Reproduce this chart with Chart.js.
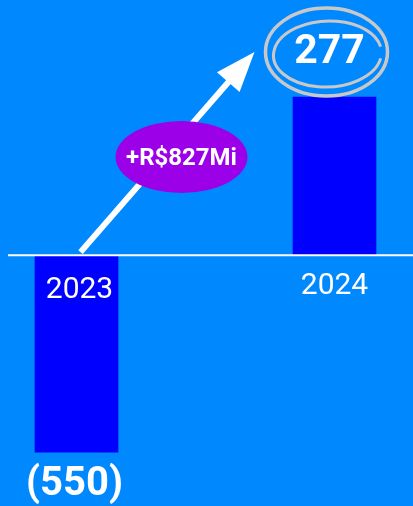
<!DOCTYPE html>
<html lang="en">
<head>
  <meta charset="UTF-8">
  <title>Resultado 2023 x 2024</title>
  <script src="https://cdn.jsdelivr.net/npm/chart.js"></script>
  <style>
    html, body { margin: 0; padding: 0; background: #0088FF; }
    #grafico { display: block; }
  </style>
</head>
<body>
  <canvas id="grafico" width="413" height="506"></canvas>

<script>
  const anos = ['2023', '2024'];
  const resultado = [-550, 277];
  const rotulosValor = ['(550)', '277'];
  const rotuloVariacao = '+R$827Mi';

  const BRANCO = '#FFFFFF';
  const AZUL_BARRA = '#0000FF';
  const ROXO = '#9B00E8';
  const CINZA = '#C8C8C8';

  // the source slide does not draw the two bars at the same scale,
  // so each bar sits on its own (hidden) axis sharing the zero line
  const desenhoExtra = {
    id: 'desenhoExtra',
    afterDatasetsDraw(chart) {
      const ctx = chart.ctx;
      const y0 = chart.scales.y.getPixelForValue(0);
      const barra23 = chart.getDatasetMeta(0).data[0];
      const barra24 = chart.getDatasetMeta(1).data[1];

      ctx.save();

      // linha do zero
      ctx.strokeStyle = BRANCO;
      ctx.lineWidth = 2;
      ctx.beginPath();
      ctx.moveTo(8, y0);
      ctx.lineTo(chart.width, y0);
      ctx.stroke();

      // anos
      ctx.fillStyle = BRANCO;
      ctx.textAlign = 'center';
      ctx.textBaseline = 'middle';
      ctx.font = '30px Roboto';
      ctx.fillText(anos[0], barra23.x + 3, y0 + 35);
      ctx.fillText(anos[1], barra24.x, y0 + 31);

      // valor negativo abaixo da barra
      ctx.font = 'bold 40px Roboto';
      ctx.fillText(rotulosValor[0], barra23.x - 2, barra23.y + 33);

      // seta
      const x1 = barra23.x + 4, y1 = y0 - 3;
      const x2 = barra24.x - 80, y2 = barra24.y - 45;
      const ang = Math.atan2(y2 - y1, x2 - x1);
      const cab = 40, meia = 15;
      const bx = x2 - cab * Math.cos(ang), by = y2 - cab * Math.sin(ang);
      ctx.strokeStyle = BRANCO;
      ctx.lineWidth = 6;
      ctx.beginPath();
      ctx.moveTo(x1, y1);
      ctx.lineTo(bx + 2 * Math.cos(ang), by + 2 * Math.sin(ang));
      ctx.stroke();
      ctx.beginPath();
      ctx.moveTo(x2, y2);
      ctx.lineTo(bx + meia * Math.sin(ang), by - meia * Math.cos(ang));
      ctx.lineTo(bx - meia * Math.sin(ang), by + meia * Math.cos(ang));
      ctx.closePath();
      ctx.fill();

      // balão roxo com a variação
      const cx = (x1 + x2) / 2 + 14, cy = (y1 + y2) / 2 + 5;
      ctx.fillStyle = ROXO;
      ctx.beginPath();
      ctx.ellipse(cx, cy, 66, 36, 0, 0, Math.PI * 2);
      ctx.fill();
      ctx.fillStyle = BRANCO;
      ctx.font = 'bold 24px Roboto';
      ctx.fillText(rotuloVariacao, cx, cy + 2);

      // círculo duplo em volta do 277
      const ex = barra24.x - 8, ey = barra24.y - 45;
      ctx.strokeStyle = CINZA;
      ctx.lineWidth = 3.5;
      ctx.beginPath();
      ctx.ellipse(ex, ey, 61, 44, 0, 0, Math.PI * 2);
      ctx.stroke();
      ctx.lineWidth = 3;
      ctx.beginPath();
      ctx.ellipse(ex + 1, ey + 2, 54, 33, -0.04, 0.2, Math.PI * 1.95);
      ctx.stroke();

      ctx.fillStyle = BRANCO;
      ctx.font = 'bold 41px Roboto';
      ctx.fillText(rotulosValor[1], barra24.x - 5, barra24.y - 44);

      ctx.restore();
    }
  };

  new Chart(document.getElementById('grafico').getContext('2d'), {
    type: 'bar',
    data: {
      labels: anos,
      datasets: [{
        label: anos[0],
        data: [resultado[0], null],
        yAxisID: 'y',
        backgroundColor: AZUL_BARRA,
        barThickness: 83,
        clip: false
      }, {
        label: anos[1],
        data: [null, resultado[1]],
        yAxisID: 'y2',
        backgroundColor: AZUL_BARRA,
        barThickness: 83,
        clip: false
      }]
    },
    options: {
      responsive: false,
      animation: false,
      devicePixelRatio: 1,
      layout: { padding: { left: 76.5, right: 78.5, top: 0, bottom: 0 } },
      datasets: { bar: { grouped: false } },
      plugins: { legend: { display: false }, tooltip: { enabled: false } },
      scales: {
        x: { display: false, offset: false },
        y: { display: false, min: -700, max: 712 },
        y2: { display: false, min: -440, max: 447 }
      }
    },
    plugins: [desenhoExtra]
  });
</script>
</body>
</html>
